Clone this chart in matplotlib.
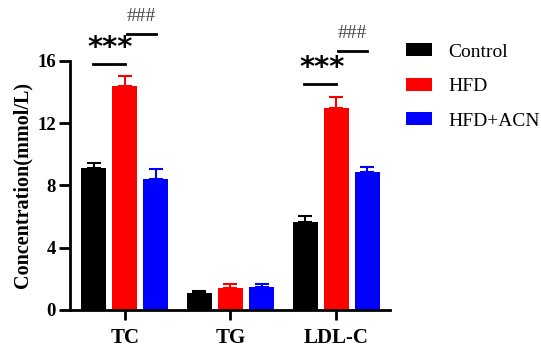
import matplotlib
matplotlib.use("Agg")
import matplotlib.pyplot as plt
import numpy as np

categories = ["TC", "TG", "LDL-C"]
groups = ["Control", "HFD", "HFD+ACN"]
colors = ["#000000", "#ff0000", "#0000ff"]
means = {
    "Control": [9.1, 1.09, 5.67],
    "HFD": [14.4, 1.41, 13.0],
    "HFD+ACN": [8.4, 1.50, 8.87],
}
errors = {
    "Control": [0.35, 0.13, 0.37],
    "HFD": [0.6, 0.24, 0.7],
    "HFD+ACN": [0.66, 0.15, 0.33],
}
yticks = [0, 4, 8, 12, 16]

plt.rcParams['font.family'] = ['Liberation Serif', 'DejaVu Serif']

fig = plt.figure(figsize=(5.41, 3.5), dpi=100)
ax = fig.add_axes([0.129, 0.1143, 0.592, 0.712])

x = np.arange(len(categories))
width = 0.237
offset = 0.294
for i, g in enumerate(groups):
    ax.bar(x + (i - 1) * offset, means[g], width, color=colors[i], label=g,
           yerr=[np.zeros(3), errors[g]],
           error_kw=dict(ecolor=colors[i], elinewidth=1.5, capsize=5, capthick=1.5))

ax.set_xlim(-0.52, 2.51)
ax.set_ylim(0, 16)
ax.set_yticks(yticks)
ax.set_yticklabels([str(t) for t in yticks], fontsize=13.5, fontweight='bold')
ax.set_xticks(x)
ax.set_xticklabels(categories, fontsize=15, fontweight='bold')
ax.tick_params(axis='x', length=7, width=2, pad=6)
ax.tick_params(axis='y', length=8, width=2, pad=2)
ax.spines['top'].set_visible(False)
ax.spines['right'].set_visible(False)
ax.spines['left'].set_linewidth(2)
ax.spines['bottom'].set_linewidth(2)
ax.set_ylabel("Concentration(mmol/L)", fontsize=14.5, fontweight='bold', labelpad=3)

# significance marks
def sig(ax, xc, y_star, y_hash):
    x0 = xc - offset
    x1 = xc
    x2 = xc + offset
    ax.plot([x0 - 0.01, x1 + 0.0], [y_star, y_star], color='black', lw=2, clip_on=False)
    ax.text((x0 + x1) / 2 + 0.01, y_star + 0.12, "***", ha='center', va='bottom',
            fontsize=21, fontweight='bold', family='DejaVu Sans', clip_on=False)
    ax.plot([x1 + 0.02, x2 + 0.0], [y_hash, y_hash], color='black', lw=2, clip_on=False)
    ax.text((x1 + x2) / 2 + 0.01, y_hash + 0.6, "###", ha='center', va='bottom',
            fontsize=14, color='#444444', clip_on=False)

sig(ax, 0, 15.8, 17.7)
sig(ax, 2, 14.5, 16.6)

ax.legend(loc='upper left', bbox_to_anchor=(0.994, 1.14), frameon=False, fontsize=14,
          handlelength=1.35, handleheight=0.65, labelspacing=0.88, handletextpad=0.85)

fig.savefig("out.png", dpi=100)
